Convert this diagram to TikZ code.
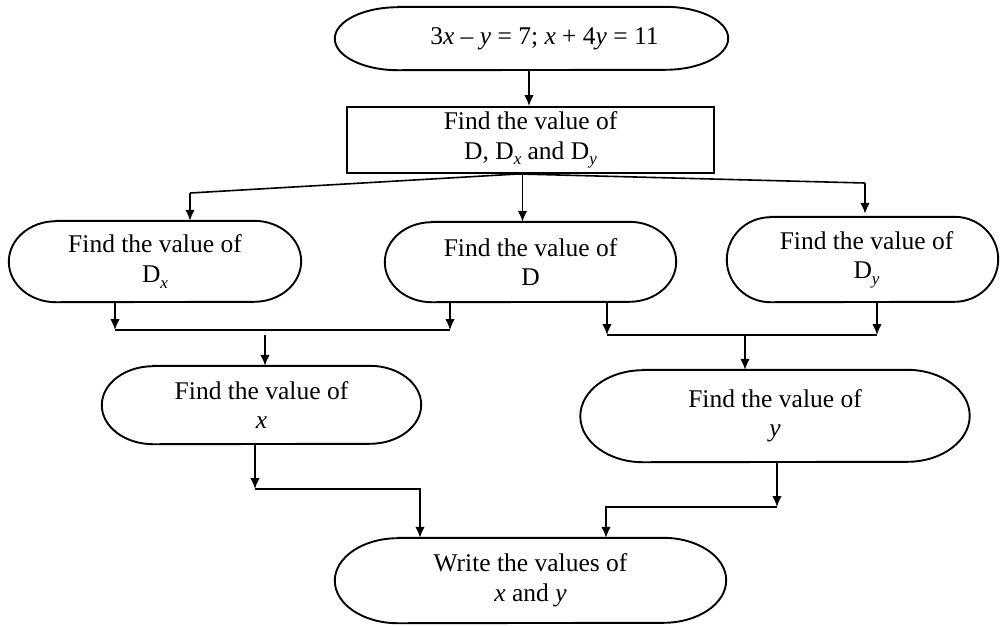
\documentclass[tikz,border=0pt]{standalone}
\usepackage{fontspec}
\setmainfont{Liberation Serif}
\usetikzlibrary{arrows.meta,calc}
\newcommand{\sbx}[1]{\raisebox{-0.22em}{\fontsize{17}{17}\selectfont\textit{#1}}}
\newcommand{\termnode}[6]{%
  \node[txt, minimum width=#4pt, minimum height=#5pt] (#1) at (#2,#3) {#6};
  \pgfmathsetmacro\trx{0.161*#4}\pgfmathsetmacro\try{#5/2}%
  \draw[outline] ([xshift=\trx pt]#1.north west) -- ([xshift=-\trx pt]#1.north east)
    arc[start angle=90, end angle=-90, x radius=\trx pt, y radius=\try pt]
    -- ([xshift=\trx pt]#1.south west)
    arc[start angle=270, end angle=90, x radius=\trx pt, y radius=\try pt] -- cycle;
}
\begin{document}
\begin{tikzpicture}[x=1pt,y=-1pt,
  arr/.style={-{Latex[length=11pt,width=9.5pt]}, line width=1.6pt},
  ln/.style={line width=1.6pt},
  outline/.style={line width=1.9pt},
  txt/.style={align=center, inner sep=0pt, font=\fontsize{25.5}{29.5}\selectfont}]
\useasboundingbox (0,0) rectangle (1000,625);

\termnode{top}{531.5}{38.5}{393}{63}{\hspace*{26pt}3\textit{x} – \textit{y} = 7; \textit{x} + 4\textit{y} = 11}
\node[txt, draw, outline, minimum width=367pt, minimum height=66pt] (rect) at (530.5,140)
  {Find the value of\\ D, D\sbx{x} and D\sbx{y}};
\termnode{Dx}{155}{261.5}{292}{81}{Find the value of\\ D\sbx{x}}
\termnode{D}{530.5}{262}{291}{80}{Find the value of\\ D}
\termnode{Dy}{862.5}{259.5}{271}{85}{\hspace*{8pt}Find the value of\\ \hspace*{8pt}D\sbx{y}}
\termnode{xt}{261.5}{405}{319}{78}{Find the value of\\ \textit{x}}
\termnode{yt}{775}{416}{389}{92}{Find the value of\\ \textit{y}}
\termnode{fin}{530.5}{580.5}{391}{85}{Write the values of\\ \textit{x} and \textit{y}}

% top to rectangle
\coordinate (c1) at (529,0);
\draw[arr] (top.south -| c1) -- (rect.north -| c1);

% branches
\coordinate (s) at ([xshift=-12pt]rect.south);
\coordinate (s2) at ([xshift=-8pt]rect.south);
\coordinate (bl) at (190,193);
\coordinate (br) at (865,183);
\draw[ln, line join=round] (s) -- (bl);
\draw[arr] (bl) -- (bl |- Dx.north);
\draw[ln, line join=round] (s) -- (br);
\draw[arr] (br) -- ([yshift=3pt]br |- Dy.north);
\draw[arr] (s2) -- (s2 |- D.north);

% left merge
\coordinate (j1) at (115,330);
\coordinate (j2) at (450,330);
\coordinate (j3) at (265,335);
\draw[arr] (Dx.south -| j1) -- (j1);
\draw[arr] (D.south -| j2) -- (j2);
\draw[ln] (j1) -- (j2);
\draw[arr] (j3) -- (j3 |- xt.north);

% right merge
\coordinate (j4) at (607,335);
\coordinate (j5) at (877,335);
\coordinate (j6) at (745,335);
\draw[arr] (D.south -| j4) -- (j4);
\draw[arr] (Dy.south -| j5) -- (j5);
\draw[ln] (j4) -- (j5);
\draw[arr] (j6) -- (j6 |- yt.north);

% to final
\coordinate (k1) at (255,489);
\coordinate (k2) at (420,489);
\coordinate (k3) at (777,507);
\coordinate (k4) at (606,507);
\draw[arr] (xt.south -| k1) -- (k1);
\draw[arr] (k1) -- (k2) -- (k2 |- fin.north);
\draw[arr] (yt.south -| k3) -- (k3);
\draw[arr] (k3) -- (k4) -- (k4 |- fin.north);
\end{tikzpicture}
\end{document}
